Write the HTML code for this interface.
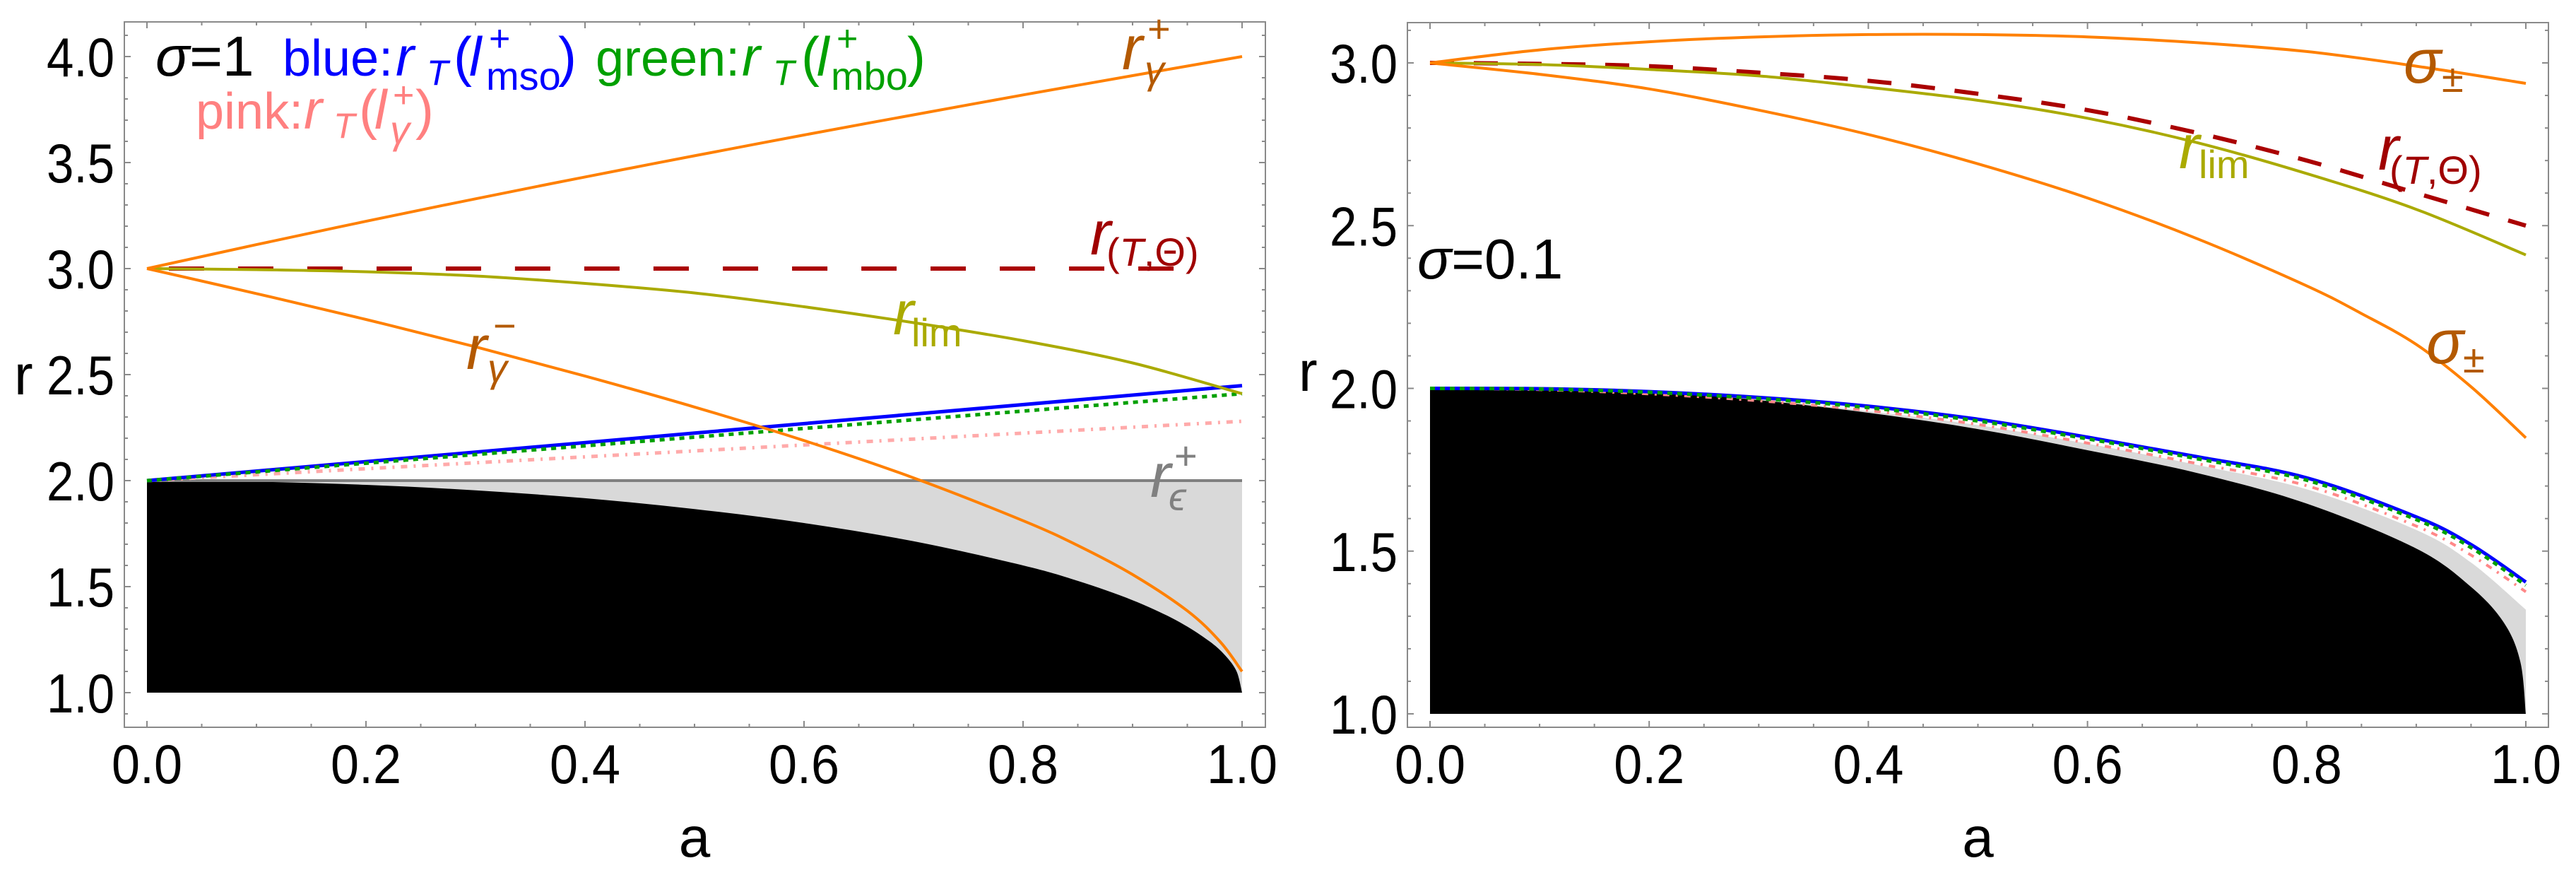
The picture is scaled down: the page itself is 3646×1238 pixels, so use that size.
<!DOCTYPE html>
<html><head><meta charset="utf-8"><style>
html,body{margin:0;padding:0;background:#fff;}
svg{display:block;font-family:"Liberation Sans",sans-serif;}
</style></head><body>
<svg id="fig" width="3646" height="1238" viewBox="0 0 3646 1238" xmlns="http://www.w3.org/2000/svg">
<g id="left"></g>
<g id="right"></g>
<g font-size="80">
  <text x="220" y="107" fill="#000"><tspan font-style="italic">σ</tspan>=1</text>
  <text fill="#0000ff" font-size="72"><tspan x="400" y="107">blue:</tspan><tspan x="560" y="107" font-style="italic" font-size="78">r</tspan><tspan x="604" y="120" font-size="50" font-style="italic">T</tspan><tspan x="642" y="107" font-size="78">(</tspan><tspan x="664" y="107" font-style="italic" font-size="78">l</tspan><tspan x="692" y="72" font-size="52">+</tspan><tspan x="688" y="127" font-size="56">mso</tspan><tspan x="790" y="107" font-size="78">)</tspan></text>
  <text fill="#00a000" font-size="72"><tspan x="843" y="107">green:</tspan><tspan x="1050" y="107" font-style="italic" font-size="78">r</tspan><tspan x="1094" y="120" font-size="50" font-style="italic">T</tspan><tspan x="1134" y="107" font-size="78">(</tspan><tspan x="1156" y="107" font-style="italic" font-size="78">l</tspan><tspan x="1184" y="72" font-size="52">+</tspan><tspan x="1176" y="127" font-size="56">mbo</tspan><tspan x="1284" y="107" font-size="78">)</tspan></text>
  <text fill="#ff8080" font-size="72"><tspan x="277" y="182">pink:</tspan><tspan x="430" y="182" font-style="italic" font-size="78">r</tspan><tspan x="472" y="195" font-size="50" font-style="italic">T</tspan><tspan x="508" y="182" font-size="78">(</tspan><tspan x="530" y="182" font-style="italic" font-size="78">l</tspan><tspan x="556" y="152" font-size="52">+</tspan><tspan x="552" y="203" font-size="56" font-style="italic">γ</tspan><tspan x="588" y="182" font-size="78">)</tspan></text>
  <text fill="#b35900"><tspan x="1588" y="98" font-style="italic" font-size="88">r</tspan><tspan x="1624" y="60" font-size="56">+</tspan><tspan x="1620" y="118" font-size="56" font-style="italic">γ</tspan></text>
  <text fill="#b35900"><tspan x="660" y="522" font-style="italic" font-size="88">r</tspan><tspan x="698" y="480" font-size="56">−</tspan><tspan x="690" y="540" font-size="56" font-style="italic">γ</tspan></text>
  <text fill="#a00000"><tspan x="1543" y="360" font-style="italic" font-size="88">r</tspan><tspan x="1566" y="376" font-size="56">(<tspan font-style="italic">T</tspan>,Θ)</tspan></text>
  <text fill="#aaaa00"><tspan x="1264" y="473" font-style="italic" font-size="88">r</tspan><tspan x="1290" y="490" font-size="56">lim</tspan></text>
  <text fill="#808080"><tspan x="1628" y="703" font-style="italic" font-size="88">r</tspan><tspan x="1662" y="664" font-size="56">+</tspan><tspan x="1654" y="722" font-size="56" font-style="italic">ϵ</tspan></text>
</g>
<g font-size="80">
  <text x="2006" y="394" fill="#000"><tspan font-style="italic">σ</tspan>=0.1</text>
  <text fill="#b35900"><tspan x="3402" y="117" font-style="italic" font-size="88">σ</tspan><tspan x="3456" y="130" font-size="56">±</tspan></text>
  <text fill="#b35900"><tspan x="3434" y="514" font-style="italic" font-size="88">σ</tspan><tspan x="3486" y="527" font-size="56">±</tspan></text>
  <text fill="#aaaa00"><tspan x="3084" y="238" font-style="italic" font-size="88">r</tspan><tspan x="3112" y="252" font-size="56">lim</tspan></text>
  <text fill="#a00000"><tspan x="3366" y="240" font-style="italic" font-size="88">r</tspan><tspan x="3382" y="260" font-size="56">(<tspan font-style="italic">T</tspan>,Θ)</tspan></text>
</g>
</svg>
<script>
// ---------- LEFT PANEL DATA (sigma = 1) ----------
const L_a = [0, 0.1, 0.2, 0.3, 0.4, 0.5, 0.6, 0.7, 0.8, 0.9, 1.0];
const L_rGammaPlus = [3, 3.113, 3.223, 3.329, 3.432, 3.532, 3.630, 3.725, 3.819, 3.910, 4.0];
const L_aMinus = [0, 0.1, 0.2, 0.3, 0.4, 0.5, 0.6, 0.7, 0.8, 0.85, 0.9, 0.95, 0.98, 1.0];
const L_rGammaMinus = [3, 2.882, 2.760, 2.631, 2.493, 2.347, 2.189, 2.013, 1.811, 1.694, 1.557, 1.386, 1.240, 1.1];
const L_rLim = [3, 2.995, 2.985, 2.965, 2.93, 2.885, 2.82, 2.745, 2.66, 2.555, 2.41];
const L_aLin = [0, 1];
const L_blue = [2, 2.448];
const L_green = [2, 2.41];
const L_pink = [2, 2.28];
const L_aTT = [0.02, 0.967];
const L_rTT = [3, 3];
const L_ergo = [2, 2];
const L_aHor = [0, 0.1, 0.2, 0.3, 0.4, 0.5, 0.6, 0.7, 0.8, 0.85, 0.9, 0.94, 0.97, 0.985, 0.995, 1.0];
const L_horizon = [2, 1.995, 1.980, 1.954, 1.917, 1.866, 1.8, 1.714, 1.6, 1.527, 1.436, 1.341, 1.243, 1.173, 1.100, 1.0];
const L_yTicks = [1.0, 1.5, 2.0, 2.5, 3.0, 3.5, 4.0];
const L_yTickLabels = ["1.0", "1.5", "2.0", "2.5", "3.0", "3.5", "4.0"];
// ---------- RIGHT PANEL DATA (sigma = 0.1) ----------
const R_a = [0, 0.1, 0.2, 0.3, 0.4, 0.5, 0.6, 0.7, 0.8, 0.9, 1.0];
const R_sigUpper = [3, 3.04, 3.065, 3.08, 3.087, 3.087, 3.08, 3.062, 3.035, 2.99, 2.937];
const R_aLower = [0, 0.1, 0.2, 0.3, 0.4, 0.5, 0.6, 0.7, 0.8, 0.85, 0.9, 0.95, 1.0];
const R_sigLower = [3, 2.965, 2.92, 2.855, 2.78, 2.69, 2.585, 2.46, 2.315, 2.23, 2.135, 2.005, 1.848];
const R_rLim = [3, 2.995, 2.98, 2.96, 2.925, 2.885, 2.83, 2.755, 2.66, 2.55, 2.41];
const R_rTT = [3, 2.997, 2.99, 2.97, 2.945, 2.905, 2.855, 2.785, 2.70, 2.60, 2.50];
const R_aB = [0, 0.1, 0.2, 0.3, 0.4, 0.5, 0.6, 0.7, 0.8, 0.9, 0.95, 1.0];
const R_blue = [2, 1.999, 1.99, 1.972, 1.945, 1.905, 1.85, 1.79, 1.725, 1.605, 1.52, 1.405];
const R_green = [2, 1.998, 1.988, 1.969, 1.941, 1.900, 1.845, 1.784, 1.718, 1.597, 1.511, 1.395];
const R_pink = [2, 1.996, 1.983, 1.962, 1.932, 1.889, 1.832, 1.769, 1.701, 1.577, 1.488, 1.375];
const R_grayEdge = [2, 1.998, 1.988, 1.966, 1.93, 1.887, 1.83, 1.765, 1.69, 1.565, 1.465, 1.32];
const R_aBlack = [0, 0.1, 0.2, 0.3, 0.4, 0.5, 0.6, 0.7, 0.8, 0.9, 0.95, 0.98, 0.995, 1.0];
const R_black = [2, 1.997, 1.99, 1.964, 1.925, 1.875, 1.81, 1.74, 1.646, 1.508, 1.39, 1.28, 1.16, 1.0];
const R_yTicks = [1.0, 1.5, 2.0, 2.5, 3.0];
const R_yTickLabels = ["1.0", "1.5", "2.0", "2.5", "3.0"];
const xTicks = [0, 0.2, 0.4, 0.6, 0.8, 1.0];
const xTickLabels = ["0.0", "0.2", "0.4", "0.6", "0.8", "1.0"];

const NS = "http://www.w3.org/2000/svg";
function mk(parent, tag, attrs) {
  const e = document.createElementNS(NS, tag);
  for (const k in attrs) e.setAttribute(k, attrs[k]);
  parent.appendChild(e);
  return e;
}
function toPts(xs, ys, X, Y) { return xs.map((a, i) => [X(a), Y(ys[i])]); }
function splinePath(p) {
  let d = "M" + p[0][0].toFixed(1) + "," + p[0][1].toFixed(1);
  for (let i = 0; i < p.length - 1; i++) {
    const p0 = p[Math.max(i - 1, 0)], p1 = p[i], p2 = p[i + 1], p3 = p[Math.min(i + 2, p.length - 1)];
    const c1x = p1[0] + (p2[0] - p0[0]) / 6, c1y = p1[1] + (p2[1] - p0[1]) / 6;
    const c2x = p2[0] - (p3[0] - p1[0]) / 6, c2y = p2[1] - (p3[1] - p1[1]) / 6;
    d += " C" + c1x.toFixed(1) + "," + c1y.toFixed(1) + " " + c2x.toFixed(1) + "," + c2y.toFixed(1) + " " + p2[0].toFixed(1) + "," + p2[1].toFixed(1);
  }
  return d;
}
function drawPanel(g, P) {
  const X = a => P.x0 + (P.x1 - P.x0) * a;
  const Y = r => P.y1 - (P.y1 - P.y2) * (r - 1);
  return { X, Y };
}
function frame(g, P, X, Y, yTicks, yLabels, rMin, rMax) {
  const f = mk(g, "rect", { x: P.fl, y: P.ft, width: P.fr - P.fl, height: P.fb - P.ft, fill: "none", stroke: "#8a8a8a", "stroke-width": 2 });
  
  
  for (let k = 0; k <= 20; k++) {
    const a = k * 0.05, major = k % 4 === 0, L = major ? 9 : 5, x = X(a);
    const t1 = mk(g, "line", { x1: x, x2: x, y1: P.fb, y2: P.fb - L, stroke: "#8a8a8a", "stroke-width": 2 });
    
    
    const t2 = mk(g, "line", { x1: x, x2: x, y1: P.ft, y2: P.ft + L, stroke: "#8a8a8a", "stroke-width": 2 });
    
    
  }
  for (let r = Math.ceil(rMin * 10); r <= Math.floor(rMax * 10); r++) {
    const major = r % 5 === 0, L = major ? 9 : 5, y = Y(r / 10);
    const t1 = mk(g, "line", { x1: P.fl, x2: P.fl + L, y1: y, y2: y, stroke: "#8a8a8a", "stroke-width": 2 });
    
    
    const t2 = mk(g, "line", { x1: P.fr, x2: P.fr - L, y1: y, y2: y, stroke: "#8a8a8a", "stroke-width": 2 });
    
    
  }
  xTicks.forEach((a, i) => {
    const t = mk(g, "text", { x: X(a), y: 1108, "text-anchor": "middle", "font-size": 78, textLength: 100, lengthAdjust: "spacingAndGlyphs" });
    t.textContent = xTickLabels[i];
    
    
  });
  yTicks.forEach((r, i) => {
    const t = mk(g, "text", { x: P.fl - 110, y: Y(r) + 28, "font-size": 78, textLength: 96, lengthAdjust: "spacingAndGlyphs" });
    t.textContent = yLabels[i];
    
    
  });
  const xl = mk(g, "text", { x: (X(0) + X(1)) / 2, y: 1212, "text-anchor": "middle", "font-size": 80 });
  xl.textContent = "a";
  
  
  const yl = mk(g, "text", { x: P.rx, y: P.ry, "font-size": 80 });
  yl.textContent = "r";
  
  
}
function line(g, name, xs, ys, X, Y, color, w, dash) {
  const a = { d: splinePath(toPts(xs, ys, X, Y)), fill: "none", stroke: color, "stroke-width": w, "stroke-linejoin": "round" };
  if (dash) a["stroke-dasharray"] = dash;
  const e = mk(g, "path", a);
  
  
  return e;
}
function area(g, name, xs, ys, X, Y, color, baseR) {
  const d = splinePath(toPts(xs, ys, X, Y)) + " L" + X(xs[xs.length - 1]).toFixed(1) + "," + Y(baseR) + " L" + X(xs[0]).toFixed(1) + "," + Y(baseR) + " Z";
  const e = mk(g, "path", { d: d, fill: color });
  
  
}

// LEFT
(function () {
  const g = document.getElementById("left");
  const P = { x0: 208, x1: 1758, y1: 980, y2: 680, fl: 176, fr: 1791, ft: 31, fb: 1029, rx: 20, ry: 558 };
  const { X, Y } = drawPanel(g, P);
  area(g, "ergoregion-fill", L_aLin, L_ergo, X, Y, "#d9d9d9", 1);
  area(g, "horizon-fill", L_aHor, L_horizon, X, Y, "#000", 1);
  line(g, "r-epsilon-plus-line", L_aLin, L_ergo, X, Y, "#808080", 4);
  line(g, "pink-rT-gamma-line", L_aLin, L_pink, X, Y, "#ffaaaa", 5, "9 9 3 9");
  line(g, "blue-rT-mso-line", L_aLin, L_blue, X, Y, "#0000ff", 5);
  line(g, "green-rT-mbo-line", L_aLin, L_green, X, Y, "#00a000", 5, "7 7");
  line(g, "r-T-Theta-dashed", L_aTT, L_rTT, X, Y, "#aa0000", 6, "50 48");
  line(g, "r-lim-line", L_a, L_rLim, X, Y, "#aaaa00", 4);
  line(g, "r-gamma-plus-line", L_a, L_rGammaPlus, X, Y, "#ff8000", 4);
  line(g, "r-gamma-minus-line", L_aMinus, L_rGammaMinus, X, Y, "#ff8000", 4);
  frame(g, P, X, Y, L_yTicks, L_yTickLabels, 0.84, 4.16);
})();
// RIGHT
(function () {
  const g = document.getElementById("right");
  const P = { x0: 2024, x1: 3575, y1: 1010, y2: 549.5, fl: 1992, fr: 3607, ft: 32, fb: 1029, rx: 1838, ry: 553 };
  const { X, Y } = drawPanel(g, P);
  area(g, "gray-region-fill", R_aB, R_grayEdge, X, Y, "#d9d9d9", 1);
  area(g, "black-region-fill", R_aBlack, R_black, X, Y, "#000", 1);
  line(g, "pink-rT-gamma-line", R_aB, R_pink, X, Y, "#ff8888", 4, "9 9 3 9");
  line(g, "blue-rT-mso-line", R_aB, R_blue, X, Y, "#0000ff", 5);
  line(g, "green-rT-mbo-line", R_aB, R_green, X, Y, "#00a000", 5, "7 7");
  line(g, "r-T-Theta-dashed", R_a, R_rTT, X, Y, "#aa0000", 6, "34 28");
  line(g, "r-lim-line", R_a, R_rLim, X, Y, "#aaaa00", 4);
  line(g, "sigma-pm-upper-line", R_a, R_sigUpper, X, Y, "#ff8000", 4);
  line(g, "sigma-pm-lower-line", R_aLower, R_sigLower, X, Y, "#ff8000", 4);
  frame(g, P, X, Y, R_yTicks, R_yTickLabels, 0.96, 3.12);
})();
</script>
</body></html>
